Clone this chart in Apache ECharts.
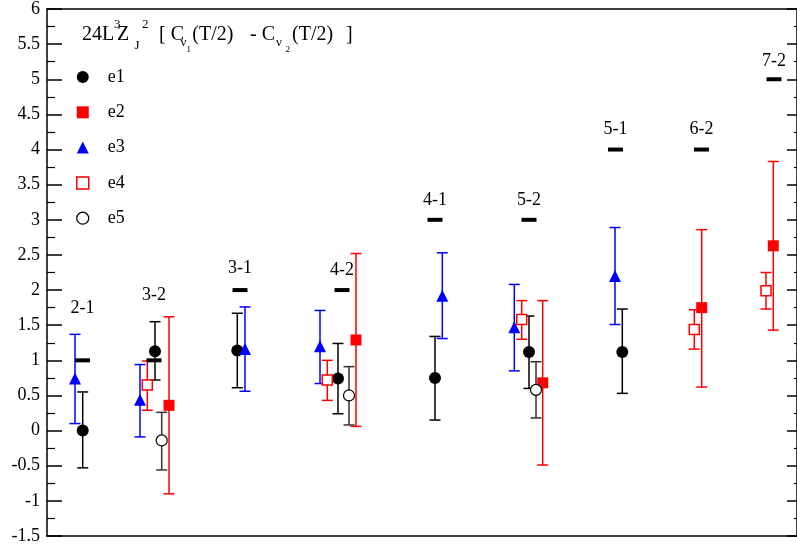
<!DOCTYPE html>
<html>
<head>
<meta charset="utf-8">
<script src="https://cdn.jsdelivr.net/npm/echarts@6/dist/echarts.min.js"></script>
<style>html,body{margin:0;padding:0;background:#fff}#c{width:797px;height:552px}</style>
</head>
<body>
<div id="c"></div>
<script>
// ---- data (x = horizontal position in plot units, y = value, lo/hi = error range) ----
const e1X  = [35.7, 108, 190.3, 291, 388, 482, 575.3];
const e1Y  = [0.00, 1.13, 1.14, 0.74, 0.75, 1.12, 1.12];
const e1Lo = [-0.53, 0.72, 0.61, 0.24, 0.15, 0.60, 0.53];
const e1Hi = [0.55, 1.55, 1.67, 1.24, 1.34, 1.63, 1.73];

const e2X  = [122, 309, 495.7, 654.7, 726.3];
const e2Y  = [0.36, 1.29, 0.68, 1.75, 2.63];
const e2Lo = [-0.90, 0.06, -0.49, 0.62, 1.43];
const e2Hi = [1.62, 2.52, 1.85, 2.86, 3.83];

const e3X  = [28, 93, 198, 273, 395.3, 467.3, 568];
const e3Y  = [0.74, 0.44, 1.16, 1.20, 1.92, 1.47, 2.20];
const e3Lo = [0.10, -0.09, 0.56, 0.67, 1.31, 0.85, 1.51];
const e3Hi = [1.37, 0.94, 1.76, 1.71, 2.53, 2.08, 2.89];

const e4X  = [100.3, 280.3, 474.7, 647.3, 719];
const e4Y  = [0.65, 0.72, 1.58, 1.44, 1.99];
const e4Lo = [0.29, 0.43, 1.30, 1.16, 1.73];
const e4Hi = [0.99, 1.00, 1.85, 1.72, 2.25];

const e5X  = [114.7, 302, 489];
const e5Y  = [-0.14, 0.50, 0.58];
const e5Lo = [-0.56, 0.08, 0.18];
const e5Hi = [0.26, 0.91, 0.98];

// expected values (horizontal dashes) and their group labels
const groupNames = ['2-1', '3-2', '3-1', '4-2', '4-1', '5-2', '5-1', '6-2', '7-2'];
const groupX     = [35.5, 107, 193, 295, 388, 482, 568.5, 654.5, 727];
const expectY    = [1, 1, 2, 2, 3, 3, 4, 4, 5];
const labelY     = [1.745, 1.92, 2.31, 2.28, 3.28, 3.28, 4.29, 4.29, 5.26];

const yTicksMin = -1.5, yTicksMax = 6, yTickStep = 0.5;
const xMin = 0, xMax = 750;

// ---- helpers ----
const SERIF = 'Liberation Serif';
function pts(xs, ys) { return xs.map((x, i) => [x, ys[i]]); }
function errs(xs, lo, hi) { return xs.map((x, i) => [x, lo[i], hi[i]]); }
function errRender(color) {
  return function (params, api) {
    const x = api.value(0);
    const a = api.coord([x, api.value(1)]);
    const b = api.coord([x, api.value(2)]);
    const w = 5.5;
    const st = { stroke: color, lineWidth: 1.5, fill: null };
    return {
      type: 'group',
      children: [
        { type: 'line', shape: { x1: a[0], y1: a[1], x2: b[0], y2: b[1] }, style: st },
        { type: 'line', shape: { x1: a[0] - w, y1: a[1], x2: a[0] + w, y2: a[1] }, style: st },
        { type: 'line', shape: { x1: b[0] - w, y1: b[1], x2: b[0] + w, y2: b[1] }, style: st }
      ]
    };
  };
}
function errSeries(name, xs, lo, hi, color) {
  return {
    name: name, type: 'custom', renderItem: errRender(color),
    data: errs(xs, lo, hi), encode: { x: 0, y: [1, 2] }, z: 2, silent: true
  };
}

const chart = echarts.init(document.getElementById('c'), null, { renderer: 'canvas' });

const titleParts = [
  { t: '24L', x: 82, y: 35, s: 20 },
  { t: '3', x: 114, y: 25, s: 13 },
  { t: 'Z', x: 117, y: 35, s: 20 },
  { t: 'J', x: 134.5, y: 46, s: 13 },
  { t: '2', x: 142, y: 25, s: 13 },
  { t: '[ C', x: 159, y: 35, s: 20 },
  { t: 'ν', x: 180.5, y: 43, s: 13 },
  { t: '1', x: 186.5, y: 49.5, s: 9 },
  { t: '(T/2)', x: 192.3, y: 35, s: 20 },
  { t: '- C', x: 250, y: 35, s: 20 },
  { t: 'ν', x: 276, y: 43, s: 13 },
  { t: '2', x: 285.5, y: 49.5, s: 9 },
  { t: '(T/2)', x: 292, y: 35, s: 20 },
  { t: ']', x: 346, y: 35, s: 20 }
];

const axisLineStyle = { color: '#000', width: 1.5 };

const option = {
  animation: false,
  backgroundColor: '#fff',
  grid: { left: 47, right: 0, top: 6, bottom: 16 },
  xAxis: [
    { type: 'value', min: xMin, max: xMax, position: 'bottom',
      axisLine: { show: true, onZero: false, lineStyle: axisLineStyle },
      axisTick: { show: false }, axisLabel: { show: false }, splitLine: { show: false } },
    { type: 'value', min: xMin, max: xMax, position: 'top',
      axisLine: { show: true, onZero: false, lineStyle: axisLineStyle },
      axisTick: { show: false }, axisLabel: { show: false }, splitLine: { show: false } }
  ],
  yAxis: [
    { type: 'value', min: yTicksMin, max: yTicksMax, interval: yTickStep, position: 'left',
      axisLine: { show: true, onZero: false, lineStyle: axisLineStyle },
      axisTick: { show: true, inside: true, length: 15, lineStyle: { color: '#000', width: 1.5 } },
      minorTick: { show: true, splitNumber: 2, length: 8, lineStyle: { color: '#000', width: 1.2 } },
      axisLabel: { show: true, margin: 7, color: '#000', fontSize: 18, fontFamily: SERIF },
      splitLine: { show: false } },
    { type: 'value', min: yTicksMin, max: yTicksMax, interval: yTickStep, position: 'right',
      axisLine: { show: true, onZero: false, lineStyle: axisLineStyle },
      axisTick: { show: true, inside: true, length: 10, lineStyle: { color: '#000', width: 1.5 } },
      minorTick: { show: true, splitNumber: 2, length: 3, lineStyle: { color: '#000', width: 1.2 } },
      axisLabel: { show: false }, splitLine: { show: false } }
  ],
  legend: {
    orient: 'vertical', left: 76, top: 67, padding: 0,
    itemWidth: 12, itemHeight: 12, itemGap: 15.3,
    textStyle: { fontSize: 18, fontFamily: SERIF, color: '#000', lineHeight: 20, padding: [0, 0, 0, 14] },
    data: [
      { name: 'e1', icon: 'circle', itemStyle: { color: '#000', borderWidth: 0 } },
      { name: 'e2', icon: 'rect', itemStyle: { color: '#f00', borderWidth: 0 } },
      { name: 'e3', icon: 'triangle', itemStyle: { color: '#00f', borderWidth: 0 } },
      { name: 'e4', icon: 'rect', itemStyle: { color: '#fff', borderColor: '#f00', borderWidth: 1.5 } },
      { name: 'e5', icon: 'circle', itemStyle: { color: '#fff', borderColor: '#000', borderWidth: 1.2 } }
    ]
  },
  graphic: titleParts.map(p => ({
    type: 'text', x: p.x, y: p.y, z: 10,
    style: { text: p.t, x: 0, y: 0, fill: '#000', fontSize: p.s, fontFamily: SERIF, align: 'left', verticalAlign: 'middle' }
  })),
  series: [
    errSeries('e1 err', e1X, e1Lo, e1Hi, '#000'),
    errSeries('e2 err', e2X, e2Lo, e2Hi, '#f00'),
    errSeries('e3 err', e3X, e3Lo, e3Hi, '#00f'),
    errSeries('e4 err', e4X, e4Lo, e4Hi, '#f00'),
    errSeries('e5 err', e5X, e5Lo, e5Hi, '#333'),
    { name: 'expected', type: 'scatter', symbol: 'rect', symbolSize: [15, 4], z: 3,
      itemStyle: { color: '#000', opacity: 1 }, data: pts(groupX, expectY), silent: true },
    { name: 'group labels', type: 'custom', z: 4, silent: true,
      data: pts(groupX, labelY).map((p, i) => [p[0], p[1], i]),
      encode: { x: 0, y: 1 },
      renderItem: function (params, api) {
        const c = api.coord([api.value(0), api.value(1)]);
        return { type: 'text', x: c[0], y: c[1],
          style: { text: groupNames[api.value(2)], fill: '#000', fontSize: 18, fontFamily: SERIF, align: 'center', verticalAlign: 'middle' } };
      } },
    { name: 'e1', type: 'scatter', symbol: 'circle', symbolSize: 12, z: 5,
      itemStyle: { color: '#000', opacity: 1 }, data: pts(e1X, e1Y) },
    { name: 'e2', type: 'scatter', symbol: 'rect', symbolSize: 11, z: 5,
      itemStyle: { color: '#f00', opacity: 1 }, data: pts(e2X, e2Y) },
    { name: 'e3', type: 'scatter', symbol: 'triangle', symbolSize: 12, z: 5,
      itemStyle: { color: '#00f', opacity: 1 }, data: pts(e3X, e3Y) },
    { name: 'e4', type: 'scatter', symbol: 'rect', symbolSize: 10, z: 5,
      itemStyle: { color: '#fff', borderColor: '#f00', borderWidth: 1.5, opacity: 1 }, data: pts(e4X, e4Y) },
    { name: 'e5', type: 'scatter', symbol: 'circle', symbolSize: 11, z: 5,
      itemStyle: { color: '#fff', borderColor: '#000', borderWidth: 1.2, opacity: 1 }, data: pts(e5X, e5Y) }
  ]
};
chart.setOption(option);
</script>
</body>
</html>
